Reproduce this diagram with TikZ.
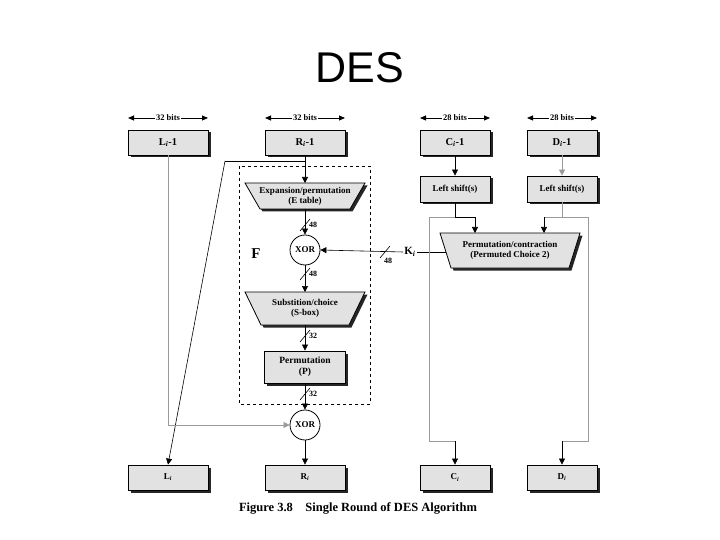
\documentclass[tikz,border=0pt]{standalone}
\usepackage{fontspec}
\setmainfont{Liberation Serif}
\newfontfamily\titlefont{Liberation Sans}
\usetikzlibrary{arrows.meta,shadows,calc}
\definecolor{boxgray}{HTML}{E2E2E2}
\definecolor{linegray}{HTML}{9A9A9A}
\newcommand{\sbi}{\textsubscript{\textit{i}}}
\tikzset{
  shd/.style={drop shadow={shadow xshift=2.5pt,shadow yshift=-2.5pt,fill=black!85,opacity=1}},
  regbox/.style={draw,fill=boxgray,shd,line width=0.8pt,minimum width=80pt,minimum height=25pt,inner sep=0pt,font=\bfseries\fontsize{10.5}{11}\selectfont},
  cdbox/.style={regbox,minimum width=70pt},
  botbox/.style={font=\bfseries\fontsize{9}{10}\selectfont},
  trap/.style={draw,fill=boxgray,shd,line width=0.8pt},
  lbl/.style={font=\bfseries\fontsize{9}{10}\selectfont,align=center,inner sep=0pt},
  xorc/.style={draw,circle,fill=white,line width=0.8pt,minimum size=30pt,inner sep=0pt,font=\bfseries\fontsize{9}{10}\selectfont},
  arr/.style={-{Triangle[length=6pt,width=6pt]},line width=0.6pt},
  ln/.style={line width=0.6pt},
  gln/.style={line width=0.6pt,draw=linegray},
  slabel/.style={font=\bfseries\fontsize{8}{8}\selectfont,inner sep=0pt},
  dim/.style={{Triangle[length=6pt,width=5pt]}-{Triangle[length=6pt,width=5pt]},line width=0.8pt},
  dimlbl/.style={fill=white,inner sep=1pt,font=\bfseries\fontsize{8.5}{9}\selectfont}
}
\newcommand{\slashmark}[3]{% x,y,label
  \draw[ln] (#1-5,#2+6) -- (#1+5,#2-6);
  \node[slabel,anchor=west] at (#1+4,#2) {#3};}
\begin{document}
\begin{tikzpicture}[x=1pt,y=-1pt]
\useasboundingbox (0,0) rectangle (720,540);
% title
\node[font=\titlefont\fontsize{43}{46}\selectfont,inner sep=0pt] (title) at (360,68) {DES};

% width annotations
\draw[dim] (128,118) -- (208,118) node[midway,dimlbl] (wl) {32 bits};
\draw[dim] (265,118) -- (345,118) node[midway,dimlbl] (wr) {32 bits};
\draw[dim] (420,118) -- (490,118) node[midway,dimlbl] (wc) {28 bits};
\draw[dim] (527,118) -- (597,118) node[midway,dimlbl] (wd) {28 bits};

% top registers
\node[regbox] (Lp) at (168,142.5) {L\sbi-1};
\node[regbox] (Rp) at (305,142.5) {R\sbi-1};
\node[cdbox] (Cp) at (455,142.5) {C\sbi-1};
\node[cdbox] (Dp) at (562,142.5) {D\sbi-1};

% left shift boxes
\node[cdbox,minimum height=26pt,font=\bfseries\fontsize{9}{10}\selectfont] (Cs) at (455,189) {Left shift(s)};
\node[cdbox,minimum height=26pt,font=\bfseries\fontsize{9}{10}\selectfont] (Ds) at (562,189) {Left shift(s)};

% F dashed box
\draw[dashed,line width=0.6pt] (239,166) rectangle (370,404);
\node[font=\bfseries\fontsize{15}{15}\selectfont,inner sep=0pt] (F) at (256,254) {F};

% expansion trapezoid
\coordinate (expT) at (305,183);
\coordinate (expB) at (305,209);
\draw[trap] (245,183) -- (365,183) -- (350,209) -- (260,209) -- cycle;
\node[lbl] (exp) at (305,196) {Expansion/permutation\\(E table)};

% xor 1
\node[xorc] (x1) at (305,250) {XOR};

% substitution trapezoid
\coordinate (subT) at (305,292);
\coordinate (subB) at (305,325);
\draw[trap] (245,292) -- (365,292) -- (349,325) -- (261,325) -- cycle;
\node[lbl] (sub) at (305,308.5) {Substition/choice\\(S-box)};

% permutation P
\node[regbox,minimum width=81pt,minimum height=32pt,font=\bfseries\fontsize{9.5}{11}\selectfont,align=center] (perm) at (305,367) {Permutation\\(P)};

% xor 2
\node[xorc] (x2) at (305,425) {XOR};

% PC2 trapezoid
\coordinate (pcT1) at (475,233);
\coordinate (pcT2) at (544,233);
\coordinate (pcL) at (446,252);
\draw[trap] (440,233) -- (580,233) -- (569,268) -- (451,268) -- cycle;
\node[lbl] (pc2) at (510,250.5) {Permutation/contraction\\(Permuted Choice 2)};
\node[font=\bfseries\fontsize{11}{11}\selectfont,inner sep=1pt] (Ki) at (410,252) {K\sbi};

% bottom registers
\node[regbox,botbox] (Li) at (168,477.5) {L\sbi};
\node[regbox,botbox] (Ri) at (305,477.5) {R\sbi};
\node[cdbox,botbox] (Ci) at (455,477.5) {C\sbi};
\node[cdbox,botbox] (Di) at (562,477.5) {D\sbi};

% connectors: R path
\coordinate (rj) at (305,161);
\coordinate (rl) at (225,161);
\draw[ln] (Rp.south) -- (rj);
\draw[arr] (rj) -- (expT);
\draw[ln] (rj) -- (rl);
\draw[arr] (rl) -- (Li.north);
% L path
\coordinate (lc) at (168,425);
\draw[gln] (Lp.south) -- (lc);
\draw[arr,draw=linegray] (lc) -- (x2.west);
% F internal
\draw[arr] (expB) -- (x1.north);
\slashmark{305}{225}{48}
\draw[arr] (x1.south) -- (subT);
\slashmark{305}{274}{48}
\draw[arr] (subB) -- (perm.north);
\slashmark{305}{336}{32}
\draw[arr] (perm.south) -- (x2.north);
\slashmark{305}{394}{32}
\draw[arr] (x2.south) -- (Ri.north);
% key
\draw[ln] (pcL) -- (Ki.east);
\draw[arr] (Ki.west) -- (x1.east);
\draw[ln] (380,258) -- (390,246);
\node[slabel] (k48) at (388,261) {48};

% C path
\coordinate (cj) at (455,217);
\coordinate (cl) at (429,217);
\coordinate (cr) at (475,217);
\coordinate (cb) at (429,441);
\coordinate (cb2) at (455,441);
\draw[arr] (Cp.south) -- (Cs.north);
\draw[ln] (Cs.south) -- (cj) -- (cr);
\draw[arr] (cr) -- (pcT1);
\draw[gln] (cj) -- (cl) -- (cb) -- (cb2);
\draw[arr] (cb2) -- (Ci.north);
% D path
\coordinate (dj) at (562,217);
\coordinate (dl) at (544,217);
\coordinate (dr) at (588,217);
\coordinate (db) at (588,441);
\coordinate (db2) at (562,441);
\draw[arr,draw=linegray] (Dp.south) -- (Ds.north);
\draw[gln] (Ds.south) -- (dj) -- (dl);
\draw[arr] (dl) -- (pcT2);
\draw[gln] (dj) -- (dr) -- (db) -- (db2);
\draw[arr] (db2) -- (Di.north);

% caption
\node[font=\bfseries\fontsize{12.5}{14}\selectfont,inner sep=0pt] (cap) at (358,508) {Figure 3.8\quad Single Round of DES Algorithm};
\end{tikzpicture}
\end{document}
